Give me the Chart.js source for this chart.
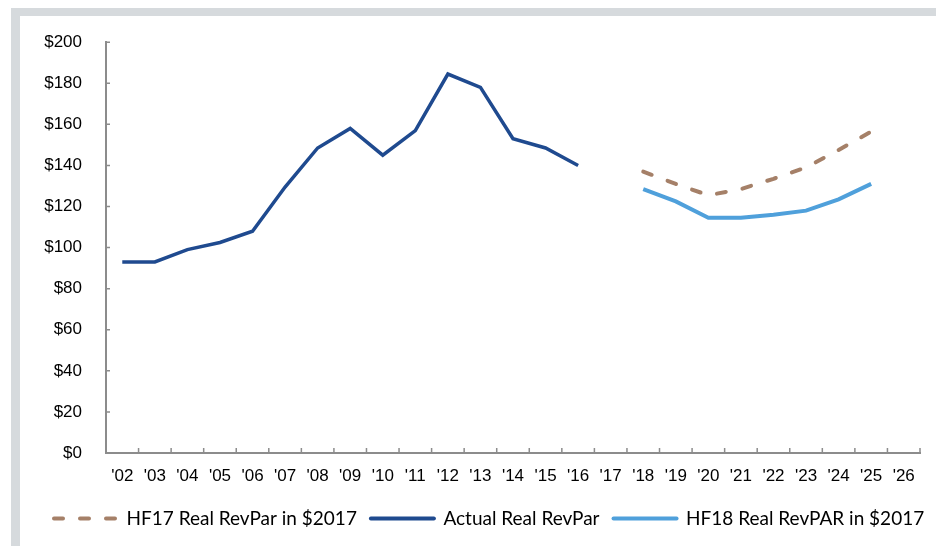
<!DOCTYPE html>
<html>
<head>
<meta charset="utf-8">
<script src="https://cdn.jsdelivr.net/npm/chart.js@4/dist/chart.umd.min.js"></script>
<style>
  html, body { margin: 0; padding: 0; background: #fff; overflow: hidden; }
  .frame {
    position: absolute; left: 11px; top: 8px; width: 925px; height: 538px;
    border-top: 8px solid #d6dadd; border-left: 9px solid #d6dadd;
    box-sizing: border-box; background: #fff;
  }
  .wrap { position: absolute; left: 20px; top: 16px; width: 940px; height: 530px; }
</style>
</head>
<body>
<div class="frame"></div>
<div class="wrap"><canvas id="revparChart"></canvas></div>
<script>
const years = ["'02", "'03", "'04", "'05", "'06", "'07", "'08", "'09", "'10", "'11", "'12", "'13", "'14",
  "'15", "'16", "'17", "'18", "'19", "'20", "'21", "'22", "'23", "'24", "'25", "'26"];

const hf17 = [null, null, null, null, null, null, null, null, null, null, null, null, null,
  null, null, null, 137, 131, 125.5, 128.5, 133.5, 139, 147.5, 156.5, null];

const actual = [93, 93, 99, 102.5, 108, 129.5, 148.5, 158, 145, 157, 184.5, 178, 153,
  148.5, 140, null, null, null, null, null, null, null, null, null, null];

const hf18 = [null, null, null, null, null, null, null, null, null, null, null, null, null,
  null, null, null, 128.5, 122.5, 114.5, 114.5, 116, 118, 123.5, 131, null];

const yTicks = [0, 20, 40, 60, 80, 100, 120, 140, 160, 180, 200];

document.addEventListener('DOMContentLoaded', function() {
  // short tick marks drawn inside the plot, like the original
  const innerTicks = {
    id: 'innerTicks',
    beforeDatasetsDraw(chart) {
      const ctx = chart.ctx;
      const x = chart.scales.x;
      const y = chart.scales.y;
      ctx.save();
      ctx.strokeStyle = '#8c8c8c';
      ctx.lineWidth = 1.5;
      ctx.beginPath();
      const half = (x.getPixelForValue(1) - x.getPixelForValue(0)) / 2;
      for (let i = 0; i <= years.length; i++) {
        const px = x.getPixelForValue(i) - half;
        ctx.moveTo(px, y.bottom);
        ctx.lineTo(px, y.bottom - 5);
      }
      yTicks.forEach(function(v) {
        const py = y.getPixelForValue(v);
        ctx.moveTo(x.left, py);
        ctx.lineTo(x.left + 4, py);
      });
      ctx.stroke();
      ctx.restore();
    }
  };

  const ctx = document.getElementById('revparChart').getContext('2d');
  new Chart(ctx, {
    type: 'line',
    data: {
      labels: years,
      datasets: [{
        label: 'HF17 Real RevPar in $2017',
        data: hf17,
        borderColor: '#a58068',
        borderWidth: 4,
        borderDash: [9, 17],
        borderCapStyle: 'round',
        pointRadius: 0,
        tension: 0
      }, {
        label: 'Actual Real RevPar',
        data: actual,
        borderColor: '#1f4a8f',
        borderWidth: 3.5,
        pointRadius: 0,
        tension: 0
      }, {
        label: 'HF18 Real RevPAR in $2017',
        data: hf18,
        borderColor: '#4fa0db',
        borderWidth: 4,
        pointRadius: 0,
        tension: 0
      }]
    },
    options: {
      responsive: true,
      maintainAspectRatio: false,
      animation: false,
      layout: { padding: { left: 20, right: 0, top: 26, bottom: 8 } },
      plugins: {
        tooltip: { enabled: false },
        legend: {
          position: 'bottom',
          align: 'start',
          labels: {
            usePointStyle: true,
            pointStyle: 'line',
            pointStyleWidth: 63,
            padding: 14,
            color: '#000',
            font: { family: 'Lato', size: 19 },
            generateLabels: function(chart) {
              const items = Chart.defaults.plugins.legend.labels.generateLabels(chart);
              items.forEach(function(item) {
                const ds = chart.data.datasets[item.datasetIndex];
                item.lineDash = ds.borderDash || [];
                item.lineCap = 'round';
                item.lineWidth = 4;
              });
              return items;
            }
          }
        }
      },
      scales: {
        x: {
          offset: true,
          grid: { display: false, offset: true },
          border: { display: true, color: '#8c8c8c', width: 2 },
          ticks: {
            color: '#000',
            padding: 5,
            maxRotation: 0,
            autoSkip: false,
            font: { family: 'Liberation Sans', size: 17 }
          },
          afterFit: function(scale) { scale.height = 42; }
        },
        y: {
          min: 0,
          max: 200,
          grid: { display: false },
          border: { display: true, color: '#8c8c8c', width: 2 },
          ticks: {
            stepSize: 20,
            color: '#000',
            padding: 16,
            font: { family: 'Liberation Sans', size: 17 },
            callback: function(v) { return '$' + v; }
          },
          afterFit: function(scale) { scale.width = 66; }
        },
        // empty right-hand spacer so the legend can run wider than the plot
        spacer: {
          position: 'right',
          grid: { display: false },
          border: { display: false },
          ticks: { display: false },
          afterFit: function(scale) { scale.width = 40; }
        }
      }
    },
    plugins: [innerTicks]
  });
});
</script>
</body>
</html>
